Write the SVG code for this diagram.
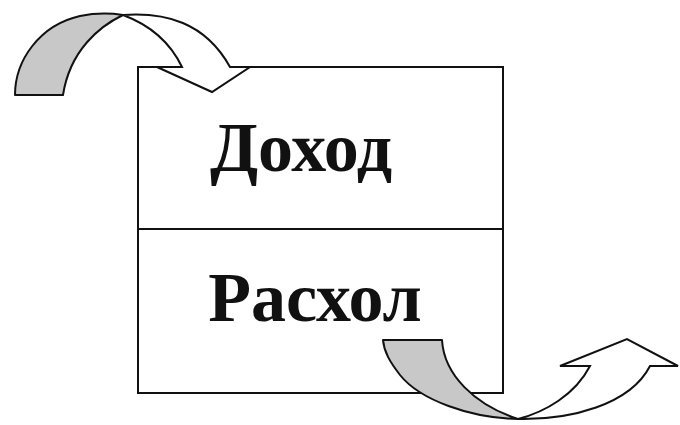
<svg xmlns="http://www.w3.org/2000/svg" width="680" height="425" viewBox="0 0 680 425">
<style>
.ln{fill:none;stroke:#111;stroke-width:2}
.g{fill:#c8c8c8;stroke:#111;stroke-width:2;stroke-linejoin:round}
.w{fill:#fff;stroke:#111;stroke-width:2;stroke-linejoin:miter}
.t{font-family:"Liberation Serif","Times New Roman",serif;font-weight:bold;font-size:70px;fill:#111}
</style>
<rect width="680" height="425" fill="#fff"/>
<g id="box">
<rect class="ln" x="138" y="67" width="365" height="326"/>
<line class="ln" x1="138" y1="229" x2="503" y2="229"/>
</g>
<g id="income"><text class="t" x="301" y="171" text-anchor="middle">Доход</text></g>
<g id="expense"><text class="t" x="315" y="321" text-anchor="middle">Расхол</text></g>
<g id="connectors">
<g id="arrow-in">
<path class="g" d="M15,95 C15,60 40,25 80,16 C95,13 110,13 123,15 C100,26 70,50 63,95 Z"/>
<path class="w" d="M123,15 C165,12 205,22 230,67 L250,67 L212,92 L157,67 L182,67 C170,42 150,25 123,15 Z"/>
</g>
<g id="arrow-out">
<path class="g" d="M383,340 L442,340 C444,375 475,405 518,419 C470,418 420,400 400,375 C390,362 384,352 383,340 Z"/>
<path class="w" d="M518,419 C570,420 630,405 650,366 L678,366 L627,339 L560,366 L590,366 C575,395 545,412 518,419 Z"/>
</g>
</g>
</svg>
